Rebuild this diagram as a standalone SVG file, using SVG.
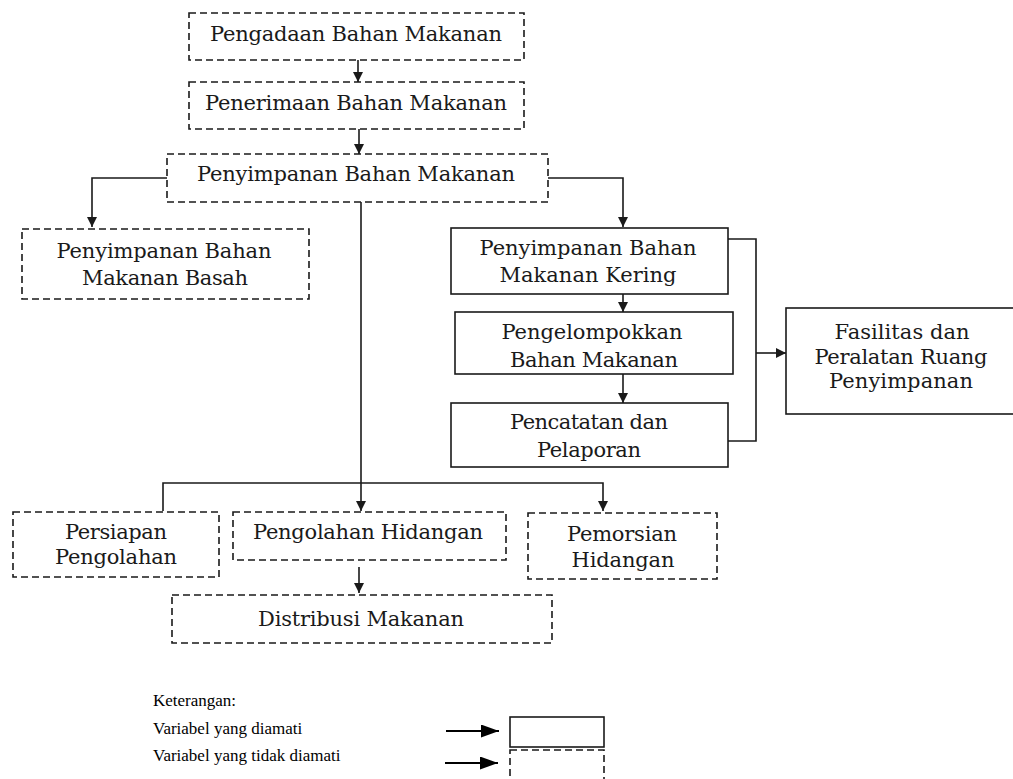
<svg xmlns="http://www.w3.org/2000/svg" width="1013" height="779" viewBox="0 0 1013 779">
<defs>
<style>
.bx{fill:#fff;stroke:#1a1a1a;stroke-width:1.6}
.dash{stroke-dasharray:7 4}
.t{font-family:'DejaVu Serif','Liberation Serif',serif;font-size:21px;fill:#1a1a1a;text-anchor:middle}
.lg{font-family:'Liberation Serif','Times New Roman',serif;font-size:17px;fill:#000}
.ln{fill:none;stroke:#1a1a1a;stroke-width:1.6}
.lgl{fill:none;stroke:#000;stroke-width:2.2}
</style>
<marker id="ah" markerUnits="userSpaceOnUse" markerWidth="10" markerHeight="10" refX="10" refY="5" orient="auto">
<path d="M0,0 L10,5 L0,10 z" fill="#1a1a1a"/>
</marker>
<marker id="ahL" markerUnits="userSpaceOnUse" markerWidth="18" markerHeight="13" refX="18" refY="6.5" orient="auto">
<path d="M0,0 L18,6.5 L0,13 z" fill="#000"/>
</marker>
</defs>
<rect width="1013" height="779" fill="#fff"/>

<g id="connectors">
<line class="ln" x1="358" y1="60" x2="358" y2="82" marker-end="url(#ah)"/>
<line class="ln" x1="359" y1="129" x2="359" y2="154" marker-end="url(#ah)"/>
<polyline class="ln" points="167,178 92,178 92,227" marker-end="url(#ah)"/>
<polyline class="ln" points="548,178 623,178 623,227" marker-end="url(#ah)"/>
<line class="ln" x1="361" y1="202" x2="361" y2="511" marker-end="url(#ah)"/>
<polyline class="ln" points="163,511 163,483 603,483 603,511" marker-end="url(#ah)"/>
<line class="ln" x1="623" y1="294" x2="623" y2="312" marker-end="url(#ah)"/>
<line class="ln" x1="623" y1="374" x2="623" y2="403" marker-end="url(#ah)"/>
<polyline class="ln" points="728,239 756,239 756,441 728,441"/>
<line class="ln" x1="756" y1="353" x2="786" y2="353" marker-end="url(#ah)"/>
<line class="ln" x1="359" y1="567" x2="359" y2="593" marker-end="url(#ah)"/>
<line class="lgl" x1="446" y1="731" x2="499" y2="731" marker-end="url(#ahL)"/>
<line class="lgl" x1="445" y1="763" x2="498" y2="763" marker-end="url(#ahL)"/>
</g>

<g id="n-pengadaan">
<rect class="bx dash" x="189" y="13" width="335" height="47"/>
<text class="t" x="356" y="41" textLength="292" lengthAdjust="spacing">Pengadaan Bahan Makanan</text>
</g>
<g id="n-penerimaan">
<rect class="bx dash" x="189" y="82" width="335" height="47"/>
<text class="t" x="356" y="110" textLength="302" lengthAdjust="spacing">Penerimaan Bahan Makanan</text>
</g>
<g id="n-penyimpanan">
<rect class="bx dash" x="167" y="154" width="381" height="48"/>
<text class="t" x="356" y="181" textLength="318" lengthAdjust="spacing">Penyimpanan Bahan Makanan</text>
</g>
<g id="n-basah">
<rect class="bx dash" x="22" y="229" width="287" height="70"/>
<text class="t" x="164" y="258" textLength="215" lengthAdjust="spacing">Penyimpanan Bahan</text>
<text class="t" x="165" y="285" textLength="166" lengthAdjust="spacing">Makanan Basah</text>
</g>
<g id="n-kering">
<rect class="bx" x="451" y="228" width="277" height="66"/>
<text class="t" x="588" y="255" textLength="217" lengthAdjust="spacing">Penyimpanan Bahan</text>
<text class="t" x="588" y="282" textLength="177" lengthAdjust="spacing">Makanan Kering</text>
</g>
<g id="n-pengelompokkan">
<rect class="bx" x="455" y="312" width="278" height="62"/>
<text class="t" x="592" y="339" textLength="181" lengthAdjust="spacing">Pengelompokkan</text>
<text class="t" x="594" y="367" textLength="168" lengthAdjust="spacing">Bahan Makanan</text>
</g>
<g id="n-pencatatan">
<rect class="bx" x="451" y="403" width="277" height="64"/>
<text class="t" x="589" y="429" textLength="158" lengthAdjust="spacing">Pencatatan dan</text>
<text class="t" x="589" y="457" textLength="104" lengthAdjust="spacing">Pelaporan</text>
</g>
<g id="n-fasilitas">
<rect class="bx" x="786" y="308" width="232" height="106"/>
<text class="t" x="902" y="339" textLength="135" lengthAdjust="spacing">Fasilitas dan</text>
<text class="t" x="901" y="364" textLength="173" lengthAdjust="spacing">Peralatan Ruang</text>
<text class="t" x="901" y="388" textLength="144" lengthAdjust="spacing">Penyimpanan</text>
</g>
<g id="n-persiapan">
<rect class="bx dash" x="13" y="512" width="206" height="65"/>
<text class="t" x="116" y="539" textLength="102" lengthAdjust="spacing">Persiapan</text>
<text class="t" x="116" y="564" textLength="122" lengthAdjust="spacing">Pengolahan</text>
</g>
<g id="n-pengolahan">
<rect class="bx dash" x="233" y="512" width="273" height="48"/>
<text class="t" x="368" y="539" textLength="230" lengthAdjust="spacing">Pengolahan Hidangan</text>
</g>
<g id="n-pemorsian">
<rect class="bx dash" x="528" y="513" width="189" height="66"/>
<text class="t" x="622" y="541" textLength="110" lengthAdjust="spacing">Pemorsian</text>
<text class="t" x="623" y="567" textLength="103" lengthAdjust="spacing">Hidangan</text>
</g>
<g id="n-distribusi">
<rect class="bx dash" x="172" y="595" width="380" height="48"/>
<text class="t" x="361" y="626" textLength="206" lengthAdjust="spacing">Distribusi Makanan</text>
</g>

<g id="legend">
<text class="lg" x="153" y="706">Keterangan:</text>
<text class="lg" x="153" y="734">Variabel yang diamati</text>
<text class="lg" x="153" y="761">Variabel yang tidak diamati</text>
<rect class="bx" x="510" y="717" width="94" height="30"/>
<rect class="bx dash" x="510" y="750" width="94" height="40"/>
</g>
</svg>
